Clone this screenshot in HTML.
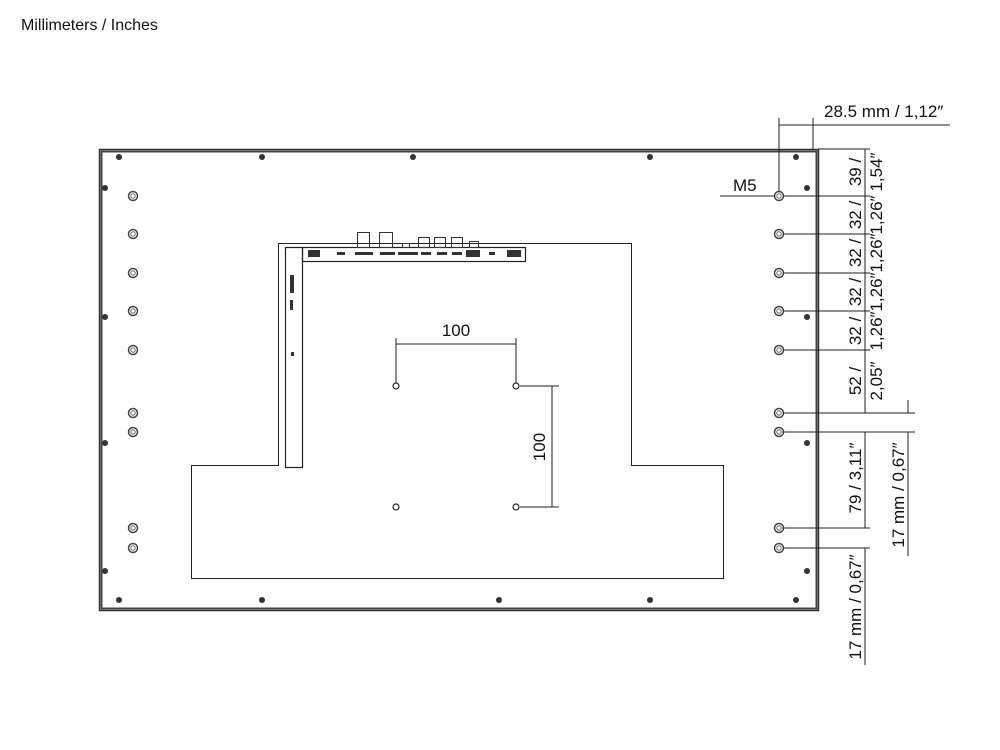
<!DOCTYPE html>
<html><head><meta charset="utf-8"><style>
html,body{margin:0;padding:0;background:#fff;width:1000px;height:750px;overflow:hidden}
svg{display:block}
text{font-family:"Liberation Sans",Arial,sans-serif;fill:#111}
</style></head><body>
<svg width="1000" height="750" viewBox="0 0 1000 750" xmlns="http://www.w3.org/2000/svg">
<text x="21" y="30" font-size="16">Millimeters / Inches</text>
<!-- panel -->
<rect x="99.5" y="149.5" width="719" height="461" fill="none" stroke="#333" stroke-width="1.5"/>
<rect x="101.5" y="151.5" width="715" height="457" fill="none" stroke="#444" stroke-width="2"/>
<!-- inner shape -->
<path d="M191.5 465.5 H278.5 V243.5 H631.5 V465.5 H723.5 V578.5 H191.5 Z" fill="none" stroke="#222" stroke-width="1"/>
<rect x="285.5" y="247.5" width="17" height="220" fill="none" stroke="#222" stroke-width="1.2"/>
<rect x="302.5" y="247.5" width="223" height="14" fill="none" stroke="#222" stroke-width="1.2"/>
<g fill="#333">
<rect x="308" y="250" width="12" height="7"/><rect x="337" y="252" width="8" height="3"/><rect x="355" y="252" width="18" height="3"/>
<rect x="380" y="252" width="15" height="3"/><rect x="398" y="252" width="20" height="3"/><rect x="421" y="252" width="10" height="3"/>
<rect x="437" y="252" width="10" height="3"/><rect x="452" y="252" width="10" height="3"/><rect x="466" y="250" width="14" height="7"/>
<rect x="489" y="252" width="6" height="3"/><rect x="507" y="250" width="14" height="7"/>
<rect x="290" y="275" width="4" height="18"/><rect x="290" y="300" width="3" height="10"/><rect x="291" y="352" width="3" height="4"/>
</g>
<g fill="none" stroke="#333" stroke-width="1">
<rect x="357.5" y="232.5" width="12" height="15"/><rect x="379.5" y="232.5" width="13" height="15"/>
<rect x="402.5" y="243.5" width="7" height="4"/><rect x="418.5" y="237.5" width="11" height="10"/>
<rect x="434.5" y="237.5" width="11" height="10"/><rect x="451.5" y="237.5" width="11" height="10"/>
<rect x="469.5" y="241.5" width="9" height="6"/>
</g>
<!-- mounting holes -->
<g fill="none" stroke="#444" stroke-width="1.5">
<g id="hl">
<circle cx="133" cy="196" r="4.5"/><circle cx="133" cy="234" r="4.5"/><circle cx="133" cy="273" r="4.5"/>
<circle cx="133" cy="311" r="4.5"/><circle cx="133" cy="350" r="4.5"/><circle cx="133" cy="413" r="4.5"/>
<circle cx="133" cy="432" r="4.5"/><circle cx="133" cy="528" r="4.5"/><circle cx="133" cy="548" r="4.5"/>
</g>
<use href="#hl" x="646"/>
</g>
<g fill="none" stroke="#666" stroke-width="1">
<circle cx="133" cy="196" r="2.2"/><circle cx="133" cy="234" r="2.2"/><circle cx="133" cy="273" r="2.2"/><circle cx="133" cy="311" r="2.2"/><circle cx="133" cy="350" r="2.2"/><circle cx="133" cy="413" r="2.2"/><circle cx="133" cy="432" r="2.2"/><circle cx="133" cy="528" r="2.2"/><circle cx="133" cy="548" r="2.2"/>
<circle cx="779" cy="196" r="2.2"/><circle cx="779" cy="234" r="2.2"/><circle cx="779" cy="273" r="2.2"/><circle cx="779" cy="311" r="2.2"/><circle cx="779" cy="350" r="2.2"/><circle cx="779" cy="413" r="2.2"/><circle cx="779" cy="432" r="2.2"/><circle cx="779" cy="528" r="2.2"/><circle cx="779" cy="548" r="2.2"/>
</g>
<!-- screws -->
<g fill="#333">
<circle cx="119" cy="157" r="3"/><circle cx="262" cy="157" r="3"/><circle cx="413" cy="157" r="3"/><circle cx="650" cy="157" r="3"/><circle cx="796" cy="157" r="3"/>
<circle cx="119" cy="600" r="3"/><circle cx="262" cy="600" r="3"/><circle cx="499" cy="600" r="3"/><circle cx="650" cy="600" r="3"/><circle cx="796" cy="600" r="3"/>
<circle cx="105" cy="188" r="3"/><circle cx="105" cy="317" r="3"/><circle cx="105" cy="443" r="3"/><circle cx="105" cy="571" r="3"/>
<circle cx="807" cy="188" r="3"/><circle cx="807" cy="317" r="3"/><circle cx="807" cy="443" r="3"/><circle cx="807" cy="571" r="3"/>
</g>
<!-- VESA -->
<g fill="#fff" stroke="#222" stroke-width="1.2">
<circle cx="396" cy="386" r="3"/><circle cx="516" cy="386" r="3"/><circle cx="396" cy="507" r="3"/><circle cx="516" cy="507" r="3"/>
</g>
<g stroke="#222" stroke-width="1" fill="none">
<path d="M396 338V383M516 338V383M396 344H516M520 386H559M520 507H559M552 386V507"/>
</g>
<text x="456" y="336" font-size="17" text-anchor="middle">100</text>
<text transform="translate(545 447) rotate(-90)" font-size="17" text-anchor="middle">100</text>
<!-- right dims -->
<g stroke="#222" stroke-width="1" fill="none">
<path d="M779 118V192M813 118V150M779 125H950M720 196H775"/>
<path d="M818 149H870M783 196H870M783 234H870M783 273H870M783 311H870M783 350H870M783 413H915M783 432H915M783 528H870M783 548H870"/>
<path d="M865 149V413M865 432V528M865 548V665M908 400V413M908 432V556"/>
</g>
<text x="824" y="117" font-size="17">28.5 mm / 1,12″</text>
<text x="733" y="191" font-size="17">M5</text>
<g font-size="17" text-anchor="middle">
<text transform="translate(861 172) rotate(-90)">39 /</text><text transform="translate(882 172) rotate(-90)">1,54″</text>
<text transform="translate(861 215) rotate(-90)">32 /</text><text transform="translate(882 215) rotate(-90)">1,26″</text>
<text transform="translate(861 253) rotate(-90)">32 /</text><text transform="translate(882 253) rotate(-90)">1,26″</text>
<text transform="translate(861 292) rotate(-90)">32 /</text><text transform="translate(882 292) rotate(-90)">1,26″</text>
<text transform="translate(861 331) rotate(-90)">32 /</text><text transform="translate(882 331) rotate(-90)">1,26″</text>
<text transform="translate(861 381) rotate(-90)">52 /</text><text transform="translate(882 381) rotate(-90)">2,05″</text>
<text transform="translate(861 478) rotate(-90)">79 / 3,11″</text>
<text transform="translate(861 607) rotate(-90)">17 mm / 0,67″</text>
<text transform="translate(904 495) rotate(-90)">17 mm / 0,67″</text>
</g>
</svg>
</body></html>
